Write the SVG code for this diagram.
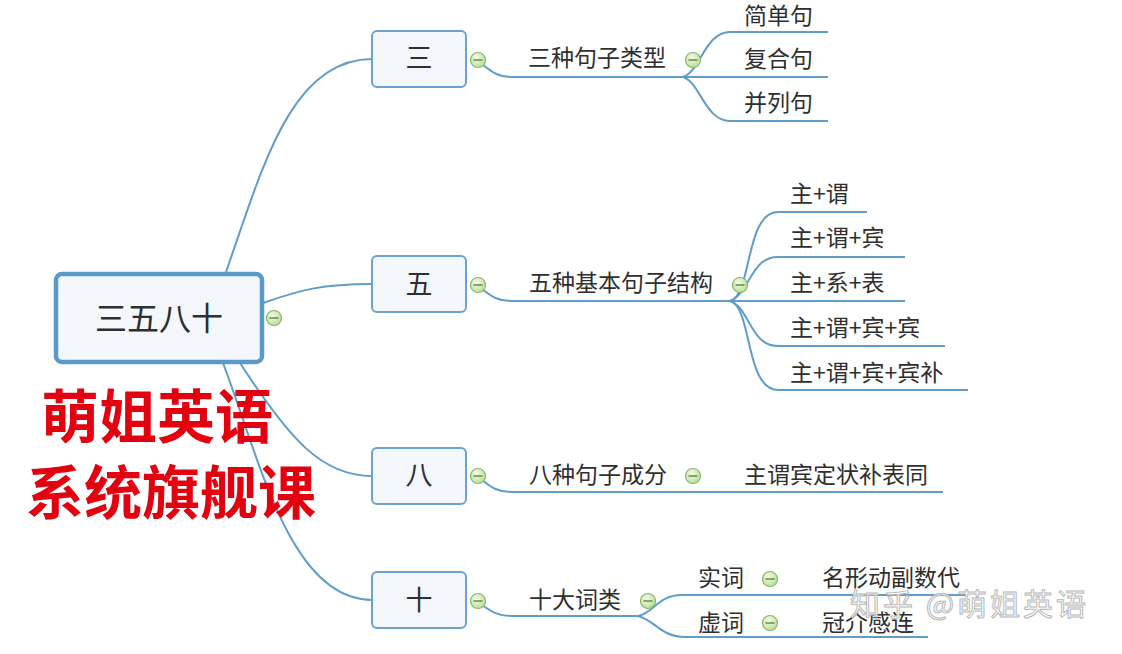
<svg xmlns="http://www.w3.org/2000/svg" width="1122" height="654" viewBox="0 0 1122 654">
<defs>
<radialGradient id="g" cx="0.4" cy="0.35" r="0.7">
<stop offset="0" stop-color="#f4fbe8"/>
<stop offset="1" stop-color="#b9dc95"/>
</radialGradient>
<g id="col">
<circle r="7.5" fill="url(#g)" stroke="#86b866" stroke-width="1.2"/>
<line x1="-4.5" y1="0" x2="4.5" y2="0" stroke="#4f7a3a" stroke-width="1.3"/>
</g>
</defs>
<style>
.t{font-family:"Noto Sans CJK SC","Noto Sans",sans-serif;fill:#2f2f2f;dominant-baseline:central}
.s{font-size:23px}
.b{font-size:27px;text-anchor:middle}
.r{font-size:32px;text-anchor:middle}
.box{fill:#f3f7fc;stroke:#6aa2d3;stroke-width:2}
.ln{fill:none;stroke:#5f9dca;stroke-width:2}
.red{font-family:"Noto Sans CJK SC",sans-serif;font-weight:bold;fill:#e3000f;text-anchor:middle;dominant-baseline:central}
</style>
<rect width="1122" height="654" fill="#ffffff"/>

<g id="connectors">
<path class="ln" d="M226,272 C262,170 290,59 372,59"/>
<path class="ln" d="M263,303 C300,290 322,284 372,284"/>
<path class="ln" d="M240,363 C290,440 322,476 372,476"/>
<path class="ln" d="M223,363 C260,460 290,600 372,600"/>
<path class="ln" d="M482,64 C492,72 498,77 512,77 H828"/>
<path class="ln" d="M683,77 C700,72 705,32 730,32 H828"/>
<path class="ln" d="M683,77 C700,82 705,121 730,121 H828"/>
<path class="ln" d="M482,289 C492,297 498,301 512,301 H905"/>
<path class="ln" d="M730,301 C752,296 745,212 778,212 H867"/>
<path class="ln" d="M730,301 C750,294 750,257 778,257 H905"/>
<path class="ln" d="M730,301 C750,308 750,346 778,346 H945"/>
<path class="ln" d="M730,301 C752,306 745,390 778,390 H968"/>
<path class="ln" d="M482,480 C492,488 498,492 512,492 H943"/>
<path class="ln" d="M482,605 C492,612 498,616 512,616 H638"/>
<path class="ln" d="M638,616 C655,612 658,595 682,595 H966"/>
<path class="ln" d="M638,616 C655,620 660,637 686,637 H928"/>
</g>

<g id="root">
<rect x="56" y="274" width="206" height="88" rx="6" fill="#f4f8fc" stroke="#5a9acb" stroke-width="4.5"/>
<text class="t r" x="159" y="316">三五八十</text>
<use href="#col" x="274" y="318"/>
</g>

<g id="n3">
<rect class="box" x="372" y="31" width="94" height="56" rx="5"/>
<text class="t b" x="419" y="56">三</text>
<use href="#col" x="478" y="60"/>
</g>
<g id="n3a">
<text class="t s" x="528" y="56">三种句子类型</text>
<use href="#col" x="693" y="60"/>
</g>
<g id="n3a1"><text class="t s" x="744" y="14">简单句</text></g>
<g id="n3a2"><text class="t s" x="744" y="57">复合句</text></g>
<g id="n3a3"><text class="t s" x="744" y="101">并列句</text></g>

<g id="n5">
<rect class="box" x="372" y="256" width="94" height="56" rx="5"/>
<text class="t b" x="419" y="282">五</text>
<use href="#col" x="478" y="285"/>
</g>
<g id="n5a">
<text class="t s" x="529" y="281">五种基本句子结构</text>
<use href="#col" x="740" y="285"/>
</g>
<g id="n5a1"><text class="t s" x="790" y="192">主+谓</text></g>
<g id="n5a2"><text class="t s" x="790" y="236">主+谓+宾</text></g>
<g id="n5a3"><text class="t s" x="790" y="281">主+系+表</text></g>
<g id="n5a4"><text class="t s" x="790" y="326">主+谓+宾+宾</text></g>
<g id="n5a5"><text class="t s" x="790" y="371">主+谓+宾+宾补</text></g>

<g id="n8">
<rect class="box" x="372" y="448" width="94" height="56" rx="5"/>
<text class="t b" x="419" y="473">八</text>
<use href="#col" x="478" y="476"/>
</g>
<g id="n8a">
<text class="t s" x="529" y="473">八种句子成分</text>
<use href="#col" x="693" y="476"/>
</g>
<g id="n8a1"><text class="t s" x="744" y="473">主谓宾定状补表同</text></g>

<g id="n10">
<rect class="box" x="372" y="572" width="94" height="56" rx="5"/>
<text class="t b" x="419" y="598">十</text>
<use href="#col" x="478" y="601"/>
</g>
<g id="n10a">
<text class="t s" x="529" y="598">十大词类</text>
<use href="#col" x="648" y="601"/>
</g>
<g id="n10a1">
<text class="t s" x="698" y="576">实词</text>
<use href="#col" x="770" y="579"/>
</g>
<g id="n10a1a"><text class="t s" x="822" y="576">名形动副数代</text></g>
<g id="n10a2">
<text class="t s" x="698" y="621">虚词</text>
<use href="#col" x="770" y="623"/>
</g>
<g id="n10a2a"><text class="t s" x="822" y="621">冠介感连</text></g>

<g id="brand">
<text class="red" x="157" y="413" font-size="58">萌姐英语</text>
<text class="red" x="171" y="489" font-size="58">系统旗舰课</text>
</g>

<g id="watermark">
<text x="850" y="602" font-family="'Noto Sans CJK SC',sans-serif" font-size="30" letter-spacing="3" fill="#ffffff" fill-opacity="0.75" stroke="#b8b8b8" stroke-width="1" dominant-baseline="central">知乎 @萌姐英语</text>
</g>
</svg>
